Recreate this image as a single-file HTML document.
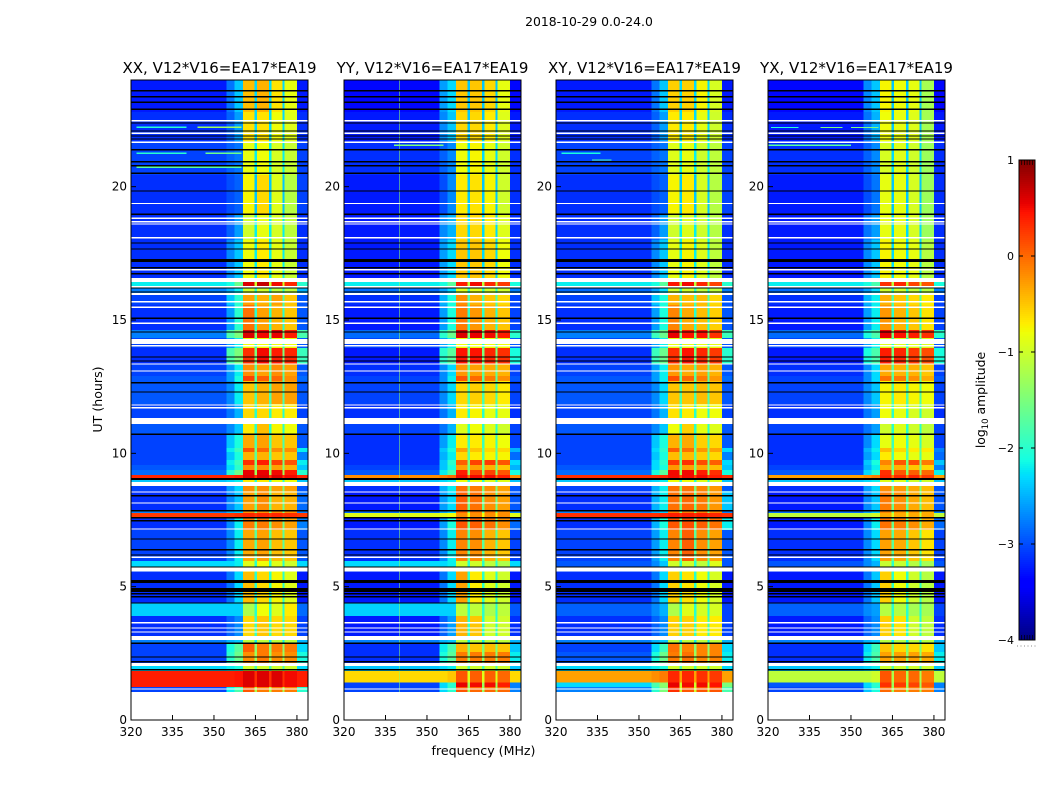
<!DOCTYPE html>
<html>
<head>
<meta charset="utf-8">
<title>2018-10-29 spectrograms</title>
<style>
html,body{margin:0;padding:0;background:#fff;width:1050px;height:800px;overflow:hidden}
svg{display:block}
text{font-family:"DejaVu Sans","Liberation Sans",sans-serif;fill:#000}
</style>
</head>
<body>
<svg id="fig" xmlns="http://www.w3.org/2000/svg" width="1050" height="800" viewBox="0 0 1050 800">
<text x="589" y="26" font-size="12.4" text-anchor="middle">2018-10-29 0.0-24.0</text>
<text x="483.5" y="755" font-size="12.6" text-anchor="middle">frequency (MHz)</text>
<text transform="translate(102,399.5) rotate(-90)" font-size="12.6" text-anchor="middle">UT (hours)</text>
<text transform="translate(985,400) rotate(-90)" font-size="12.4" text-anchor="middle">log<tspan font-size="8.5" dy="3">10</tspan><tspan dy="-3"> amplitude</tspan></text>
</svg>
<script>
// Axis domain and tick values
const freqTicks = [320, 335, 350, 365, 380];
const utTicks = [0, 5, 10, 15, 20];
const cbarTicks = [1, 0, -1, -2, -3, -4];
const panelTitles = ["XX, V12*V16=EA17*EA19", "YY, V12*V16=EA17*EA19", "XY, V12*V16=EA17*EA19", "YX, V12*V16=EA17*EA19"];

// Frequency edges (MHz) of the heatmap columns
const freqEdges = [320, 354.5, 357.5, 360.5, 364.7, 365.5, 369.9, 370.8, 374.7, 375.5, 380, 384];

// UT (hours) edges of the time blocks, descending
const utEdges = [24.0,22.8,21.71,21.64,20.44,18.94,18.0,16.43,16.28,16.01,15.56,14.63,14.33,14.10,13.95,13.35,12.9,12.71,11.85,11.33,11.1,10.73,10.2,10.05,9.75,9.56,9.38,9.19,9.08,8.93,8.78,8.59,7.88,7.76,7.61,7.13,5.96,5.74,5.55,4.39,3.9,3.15,3.0,2.87,2.55,2.14,2.03,1.84,1.4,1.24,1.05];

// Flagged integrations: UT of thin rows, and [start,end] of thick rows
const whiteRows = [22.47,22.0,21.67,19.37,18.81,18.69,18.6,18.09,16.88,16.25,15.69,15.48,14.88,14.03,13.35,13.09,11.81,11.71,8.55,8.14,7.16,6.10,3.65,3.45,3.3,1.16];
const whiteBlocks = [[16.43,16.58],[15.94,16.02],[14.1,14.29],[11.1,11.33],[8.78,8.93],[5.56,5.71],[3.0,3.15],[2.03,2.14]];
const blackRows = [23.6,23.37,23.16,22.9,22.39,22.09,21.9,21.79,21.38,20.94,20.79,20.5,19.84,18.96,17.89,17.66,16.96,16.73,16.2,16.05,15.06,14.55,13.61,13.46,12.65,12.3,10.71,8.41,7.85,7.58,7.47,6.79,6.38,6.19,5.74,4.73,4.62,4.39,2.88,2.36,2.18,1.88];
const blackBlocks = [[17.18,17.29],[9.0,9.08],[5.14,5.25],[4.8,4.95]];

// log10 amplitude per time block: [background, edge1, edge2, sub1, sub2, sub3, sub4, gap, tail]
const levelsXX = [
[-3.1,-2.8,-2.4,-.45,-.4,-.65,-.85,-2.3,-3.1],[-3,-2.9,-2.6,-.65,-.65,-.8,-.9,-2.3,-3],[-2.9,-2.9,-2.7,-.8,-.8,-.9,-1,-2,-2.9],[-2.9,-2.9,-2.8,-.85,-.8,-.95,-1.05,-2.2,-2.9],
[-3,-3,-2.9,-.75,-.6,-.9,-1.15,-2.4,-2.9],[-3,-2.9,-2.6,-1,-.85,-.95,-1.1,-2.2,-3],[-3,-2.7,-2.4,-.8,-.7,-.85,-1.05,-2.2,-3],[-2.2,-2.1,-1.6,.6,.7,.5,.35,-1,-2],
[-2.6,-2.5,-2.2,-1,-1,-1.1,-1.1,-2,-2.5],[-2.9,-2.4,-2,-.3,-.4,-.3,-.5,-1.8,-2.8],[-3,-2.6,-2,-.05,-.3,-.4,-.5,-2,-2.8],[-2.6,-1.8,-1.5,.6,.5,.55,.4,-1.5,-1.8],
[-2.9,-2.6,-2.2,-.8,-.8,-.8,-.8,-2,-2.8],[-2.9,-2.6,-2.2,-.8,-.8,-.8,-.8,-2,-2.8],[-3,-1.8,-1.5,.3,.5,.4,.35,-1.5,-1.9],[-2.9,-2.6,-2.2,-.2,-.3,-.2,-.3,-1.7,-2.8],
[-2.8,-2.6,-2.1,.2,.05,0,-.2,-1.7,-2.7],[-2.8,-2.7,-2.2,-.5,-.4,-.3,-.3,-1.8,-2.8],[-2.9,-2.8,-2.5,-.6,-.6,-.7,-.7,-2,-2.9],[-2.9,-2.8,-2.5,-.6,-.6,-.7,-.7,-2,-2.9],
[-2.8,-2.7,-2.4,-.7,-.45,-.75,-.8,-2,-2.8],[-2.9,-2.4,-2.1,-.35,-.3,-.5,-.5,-1.8,-2.8],[-2.9,-2.2,-1.9,.1,0,-.2,-.2,-1.5,-2.2],[-2.9,-2.4,-2.1,-.4,-.4,-.5,-.5,-1.7,-2.6],
[-2.9,-2.2,-1.9,.3,.4,.2,.1,-1.5,-2.2],[-2.8,-2.3,-2,-.2,-.2,-.3,-.4,-1.5,-2.4],[-2.7,-2,-1.6,.55,.55,.5,.4,-1.3,-2],[.35,.35,.4,.6,.6,.6,.5,.3,.35],
[-2.4,-2.3,-2.2,-.7,-.7,-.8,-.8,-2,-2.4],[-2.4,-2.3,-2.2,-.7,-.7,-.8,-.8,-2,-2.4],[-2.9,-2.6,-2.3,-.2,-.2,-.3,-.3,-1.5,-2.8],[-3,-2.7,-2.4,-.3,-.2,-.4,-.4,-1.6,-2.7],
[-2.6,-2.5,-2.4,-.2,-.2,-.2,-.2,-1.5,-2.6],[.25,.25,.3,.35,.35,.35,.3,.25,.25],[-3,-2.7,-2.2,-.1,-.1,-.2,-.3,-1.6,-2.6],[-2.9,-2.7,-2.2,-.35,-.3,-.45,-.5,-1.7,-2.8],
[-2.3,-2.3,-2.2,-.9,-.8,-.9,-1,-2,-2.3],[-2.9,-2.8,-2.4,-.6,-.7,-.8,-.9,-2,-3],[-3,-2.8,-2.3,-.45,-.6,-.75,-.9,-2,-3.1],[-2.35,-2.35,-2.35,-1.2,-.8,-.9,-.7,-2,-2.7],
[-3,-2.9,-2.7,-.6,-.5,-.6,-.6,-1.9,-2.9],[-3,-2.9,-2.7,-.6,-.5,-.6,-.6,-1.9,-2.9],[-2.6,-2.5,-2.4,-1.1,-1.1,-1.1,-1.1,-2.2,-2.5],[-2.9,-2.1,-1.7,.05,-.1,-.1,-.1,-1.4,-2.3],
[-2.9,-2,-1.6,-.2,-.1,-.2,-.2,-1.3,-2.1],[-2.9,-2,-1.6,-.2,-.1,-.2,-.2,-1.3,-2.1],[-2.3,-2.2,-2.1,-1,-1,-1,-1,-1.8,-2.3],[.4,.4,.45,.6,.6,.6,.5,.3,.4],
[.4,.4,.45,.6,.6,.6,.5,.3,.4],[-2.9,-2.2,-1.8,.1,-.1,-.1,-.1,-1.2,-2]
];
const levelsYY = [
[-3.2,-2.6,-2.3,-.5,-.5,-.6,-.85,-2.4,-3.2],[-3.1,-2.7,-2.4,-.6,-.6,-.7,-.9,-2.4,-3.1],[-3,-2.9,-2.7,-.8,-.8,-.9,-1,-2,-3],[-3,-2.9,-2.7,-.8,-.75,-.85,-1,-2.3,-3],
[-3.1,-3,-2.7,-.7,-.65,-.75,-1,-2.4,-3],[-3.1,-2.7,-2.5,-.6,-.6,-.7,-.9,-2.3,-3],[-3.1,-2.6,-2.3,-.5,-.5,-.6,-.8,-2.3,-3],[-2.2,-2.1,-1.7,.4,.5,.35,.25,-1.1,-2.1],
[-2.7,-2.6,-2.3,-.9,-.9,-1,-1,-2,-2.6],[-3,-2.5,-2.1,-.2,-.4,-.5,-.6,-1.8,-2.9],[-3.1,-2.6,-2.1,-.1,-.25,-.4,-.5,-2,-2.9],[-2.7,-2,-1.6,.6,.55,.5,.4,-1.5,-2],
[-2.9,-2.6,-2.2,-.8,-.8,-.8,-.8,-2,-2.8],[-2.9,-2.6,-2.2,-.8,-.8,-.8,-.8,-2,-2.8],[-3.1,-2,-1.7,.45,.45,.35,.3,-1.5,-2.1],[-3,-2.7,-2.3,-.25,-.3,-.35,-.4,-1.7,-2.9],
[-2.9,-2.7,-2.2,.1,0,-.1,-.2,-1.7,-2.8],[-2.9,-2.7,-2.3,-.6,-.55,-.6,-.7,-1.8,-2.9],[-3,-2.8,-2.5,-.7,-.75,-.85,-.85,-2,-3],[-3,-2.8,-2.5,-.7,-.75,-.85,-.85,-2,-3],
[-2.9,-2.8,-2.5,-.9,-.8,-.9,-1,-2,-2.9],[-3,-2.6,-2.2,-.7,-.7,-.75,-.8,-1.9,-2.9],[-3,-2.4,-2.1,-.3,-.5,-.6,-.6,-1.7,-2.5],[-3,-2.5,-2.2,-.6,-.7,-.75,-.75,-1.8,-2.7],
[-3,-2.4,-2,.05,.2,.25,.1,-1.5,-2.3],[-2.9,-2.4,-2.1,-.3,-.3,-.4,-.5,-1.6,-2.5],[-2.8,-2.2,-1.8,.4,.2,.2,.1,-1.4,-2.1],[-.2,-.1,0,.5,.5,.5,.4,0,-.2],
[-2.4,-2.3,-2.2,-.8,-.8,-.9,-.9,-2,-2.4],[-2.4,-2.3,-2.2,-.8,-.8,-.9,-.9,-2,-2.4],[-3,-2.5,-2.2,-.05,-.1,-.2,-.3,-1.5,-2.8],[-3.1,-2.6,-2.3,.05,-.05,-.2,-.3,-1.6,-2.8],
[-2.7,-2.6,-2.4,0,-.1,-.1,-.2,-1.5,-2.6],[-.9,-.9,-.8,-.2,-.2,-.2,-.2,-.8,-.9],[-3.1,-2.6,-2.1,.1,.05,-.05,-.2,-1.6,-2.7],[-3,-2.7,-2.2,-.15,-.2,-.4,-.5,-1.7,-2.9],
[-2.3,-2.3,-2.2,-1,-1,-1.1,-1.2,-2,-2.3],[-3,-2.8,-2.4,-.4,-.8,-.9,-1,-2,-3],[-3.1,-2.8,-2.3,-.3,-.7,-.9,-1,-2,-3.1],[-2.35,-2.35,-2.35,-1.1,-1.1,-1.2,-1.1,-2,-2.8],
[-3.1,-2.9,-2.6,-.4,-.5,-1,-1,-2,-3],[-3.1,-2.9,-2.6,-.4,-.5,-1,-1,-2,-3],[-2.6,-2.5,-2.4,-1.1,-1.1,-1.1,-1.1,-2.2,-2.5],[-3,-2.2,-1.8,-.4,-.5,-.45,-.5,-1.5,-2.4],
[-3,-2.1,-1.7,-.1,-.1,-.1,-.1,-1.4,-2.2],[-3,-2.1,-1.7,-.1,-.1,-.1,-.1,-1.4,-2.2],[-2.4,-2.3,-2.2,-1,-1,-1,-1,-1.8,-2.4],[-.6,-.6,-.5,.1,.05,.05,0,-.9,-.6],
[-2.9,-2.3,-2,.55,.5,.5,.4,-1.3,-2.6],[-2.9,-2.3,-2,.1,0,0,0,-1.3,-2.6]
];
const levelsXY = [
[-3.1,-2.8,-2.4,-.55,-.55,-.75,-.95,-2.3,-3.1],[-3,-2.9,-2.6,-.7,-.7,-.85,-1,-2.3,-3],[-2.9,-2.9,-2.8,-.9,-.9,-1,-1.1,-2,-2.9],[-2.9,-2.9,-2.8,-.9,-.85,-1,-1.1,-2.2,-2.9],
[-3,-3,-2.9,-.75,-.7,-.95,-1.15,-2.4,-2.9],[-3,-2.9,-2.6,-1,-.9,-1,-1.15,-2.2,-3],[-3,-2.7,-2.4,-.85,-.75,-.9,-1.1,-2.2,-3],[-2.2,-2.1,-1.7,.45,.5,.35,.2,-1.1,-2],
[-2.7,-2.6,-2.3,-1,-1,-1.1,-1.1,-2,-2.6],[-2.9,-2.4,-2.1,-.4,-.45,-.45,-.6,-1.8,-2.8],[-3,-2.6,-2.1,-.15,-.35,-.45,-.55,-2,-2.8],[-2.6,-1.9,-1.6,.55,.45,.45,.3,-1.5,-1.9],
[-2.9,-2.6,-2.2,-.85,-.85,-.85,-.85,-2,-2.8],[-2.9,-2.6,-2.2,-.85,-.85,-.85,-.85,-2,-2.8],[-3,-1.9,-1.6,.3,.45,.35,.25,-1.5,-2],[-2.9,-2.6,-2.2,-.25,-.35,-.3,-.4,-1.7,-2.8],
[-2.8,-2.6,-2.2,.15,0,-.1,-.25,-1.7,-2.7],[-2.8,-2.7,-2.3,-.5,-.5,-.45,-.5,-1.8,-2.8],[-2.9,-2.8,-2.5,-.65,-.7,-.8,-.8,-2,-2.9],[-2.9,-2.8,-2.5,-.65,-.7,-.8,-.8,-2,-2.9],
[-2.8,-2.7,-2.4,-.8,-.55,-.85,-.9,-2,-2.8],[-2.9,-2.4,-2.1,-.4,-.35,-.55,-.6,-1.8,-2.8],[-2.9,-2.3,-2,.05,-.05,-.25,-.3,-1.5,-2.3],[-2.9,-2.4,-2.1,-.45,-.45,-.55,-.6,-1.7,-2.6],
[-2.9,-2.3,-2,.25,.3,.15,.05,-1.5,-2.3],[-2.8,-2.3,-2.1,-.25,-.3,-.35,-.45,-1.5,-2.4],[-2.7,-2.1,-1.7,.5,.5,.4,.3,-1.3,-2.1],[.3,.3,.35,.5,.5,.5,.4,.2,.3],
[-2.4,-2.3,-2.2,-.8,-.8,-.9,-.9,-2,-2.4],[-2.4,-2.3,-2.2,-.8,-.8,-.9,-.9,-2,-2.4],[-2.9,-2.5,-2.2,-.05,-.05,-.15,-.25,-1.5,-2.8],[-3,-2.5,-2.2,-.05,0,-.1,-.25,-1.6,-2.4],
[-2.6,-2.5,-2.4,-.1,-.1,-.1,-.15,-1.5,-2.6],[.3,.3,.35,.4,.4,.4,.35,.3,.3],[-3,-2.5,-2.1,.1,.15,.05,-.05,-1.6,-2.2],[-2.9,-2.6,-2.2,-.15,.05,-.2,-.3,-1.7,-2.8],
[-2.8,-2.7,-2.4,-1,-1,-1.1,-.9,-2,-2.8],[-2.9,-2.8,-2.4,-.7,-.75,-.85,-1,-2,-3],[-3,-2.8,-2.3,-.55,-.65,-.8,-.95,-2,-3.1],[-2.75,-2.7,-2.5,-1.2,-.9,-.95,-.95,-2,-2.9],
[-3,-2.9,-2.7,-.55,-.55,-.7,-.7,-1.9,-2.9],[-3,-2.9,-2.7,-.55,-.55,-.7,-.7,-1.9,-2.9],[-2.6,-2.5,-2.4,-1.1,-1.1,-1.1,-1.1,-2.2,-2.5],[-2.9,-2.3,-1.9,-.05,-.15,-.15,-.15,-1.4,-2.3],
[-2.8,-2.1,-1.6,-.1,-.05,-.15,-.15,-1.3,-2.2],[-2.8,-2.1,-1.6,-.1,-.05,-.15,-.15,-1.3,-2.2],[-2.3,-2.2,-2.1,-1,-1,-1,-1,-1.8,-2.3],[-.3,-.2,-.1,.35,.35,.3,.25,-.3,-.3],
[-2.3,-1.8,-1.4,.55,.5,.5,.45,-1,-1.5],[-2.6,-2,-1.5,.3,.1,.1,.1,-1,-1.8]
];
const levelsYX = [
[-3.2,-2.7,-2.4,-.75,-.8,-.85,-1.25,-2.4,-3.2],[-3.1,-2.8,-2.5,-.8,-.85,-.9,-1.25,-2.4,-3.1],[-3,-2.9,-2.8,-1,-1,-1,-1.3,-2,-3],[-3,-2.9,-2.7,-.95,-.9,-1,-1.3,-2.3,-3],
[-3.1,-3,-2.8,-.85,-.85,-.95,-1.3,-2.4,-3],[-3.1,-2.8,-2.6,-.85,-.85,-.95,-1.3,-2.3,-3],[-3.1,-2.7,-2.4,-.75,-.8,-.85,-1.15,-2.3,-3],[-2.2,-2.1,-1.8,.3,.35,.2,.1,-1.1,-2.1],
[-2.7,-2.6,-2.3,-1,-1,-1.1,-1.15,-2,-2.6],[-3,-2.5,-2.2,-.4,-.5,-.6,-.7,-1.8,-2.9],[-3.1,-2.6,-2.2,-.25,-.4,-.5,-.65,-2,-2.9],[-2.7,-2.1,-1.8,.55,.45,.4,.3,-1.5,-2],
[-2.9,-2.6,-2.2,-.9,-.9,-.9,-.9,-2,-2.8],[-2.9,-2.6,-2.2,-.9,-.9,-.9,-.9,-2,-2.8],[-3.1,-2.1,-1.8,.4,.35,.25,.15,-1.5,-2.1],[-3,-2.7,-2.3,-.35,-.4,-.4,-.5,-1.7,-2.9],
[-2.9,-2.7,-2.3,-.05,-.1,-.2,-.35,-1.7,-2.8],[-2.9,-2.7,-2.4,-.75,-.7,-.75,-.8,-1.8,-2.9],[-3,-2.8,-2.6,-.8,-.85,-.95,-1,-2,-3],[-3,-2.8,-2.6,-.8,-.85,-.95,-1,-2,-3],
[-2.9,-2.8,-2.6,-1,-.9,-1,-1.1,-2,-2.9],[-3,-2.7,-2.3,-.85,-.8,-.85,-.95,-1.9,-2.9],[-3,-2.5,-2.2,-.45,-.6,-.7,-.7,-1.7,-2.6],[-3,-2.6,-2.3,-.7,-.8,-.85,-.85,-1.8,-2.7],
[-3,-2.4,-2.1,-.15,.1,.15,-.1,-1.5,-2.4],[-2.9,-2.5,-2.2,-.4,-.4,-.5,-.6,-1.6,-2.6],[-2.8,-2.3,-2,.3,.1,.05,0,-1.4,-2.2],[-.3,-.2,-.1,.35,.35,.35,.25,-.1,-.3],
[-2.4,-2.3,-2.2,-.9,-.9,-1,-1,-2,-2.4],[-2.4,-2.3,-2.2,-.9,-.9,-1,-1,-2,-2.4],[-3,-2.6,-2.3,-.2,-.25,-.35,-.45,-1.5,-2.8],[-3.1,-2.7,-2.4,-.1,-.2,-.35,-.45,-1.6,-2.8],
[-2.7,-2.6,-2.4,-.15,-.25,-.25,-.35,-1.5,-2.6],[-1.1,-1.1,-1,-.35,-.35,-.35,-.35,-1,-1.1],[-3.1,-2.7,-2.2,-.05,-.1,-.2,-.35,-1.6,-2.7],[-3,-2.7,-2.3,-.3,-.35,-.5,-.65,-1.7,-2.9],
[-2.8,-2.7,-2.5,-1.05,-1.05,-1.15,-1.25,-2,-2.8],[-3,-2.8,-2.5,-.6,-.85,-1,-1.15,-2,-3],[-3.1,-2.8,-2.4,-.55,-.8,-1,-1.15,-2,-3.1],[-2.75,-2.7,-2.6,-1.15,-1.15,-1.25,-1.25,-2,-2.9],
[-3.1,-2.9,-2.7,-.55,-.65,-1,-1.1,-2,-3],[-3.1,-2.9,-2.7,-.55,-.65,-1,-1.1,-2,-3],[-2.6,-2.5,-2.4,-1.15,-1.15,-1.15,-1.15,-2.2,-2.5],[-3,-2.3,-1.9,-.5,-.6,-.6,-.65,-1.5,-2.4],
[-3,-2.2,-1.8,-.3,-.3,-.3,-.35,-1.4,-2.2],[-3,-2.2,-1.8,-.3,-.3,-.3,-.35,-1.4,-2.2],[-2.4,-2.3,-2.2,-1,-1,-1,-1,-1.8,-2.4],[-1.1,-1.1,-1,.1,0,0,-.1,-1.2,-1.1],
[-2.8,-2.3,-2,.3,.25,.2,.1,-1.3,-2.6],[-2.9,-2.4,-2.1,0,-.1,-.1,-.1,-1.3,-2.6]
];
const panelLevels = [levelsXX, levelsYY, levelsXY, levelsYX];

// The speckled background reads slightly darker on average than the block estimates
const backgroundBias = -0.15;

// Narrowband interference column seen only in the YY panel (MHz, log10 amplitude)
const yyNarrowbandMHz = 339.8;
const yyNarrowbandLevel = -1.4;

// Short RFI streaks: [panel index, UT, start MHz, end MHz, log10 amplitude]
const rfiStreaks = [
[0,22.23,322,340,-2],[0,22.23,344,360,-1.3],[0,21.25,322,340,-2],[0,21.25,347,360,-1.6],[0,20.73,322,360,-1.7],
[1,21.55,338,356,-1.5],
[2,21.0,333,340,-1.8],[2,21.25,322,336,-2.1],
[3,22.22,321,331,-2],[3,22.22,339,347,-1.5],[3,22.22,350,360,-1.5],[3,21.55,320,350,-1.7]
];

const SVGNS = "http://www.w3.org/2000/svg";
const fig = document.getElementById("fig");
const panelLeft = [131, 344, 556, 768];
const axW = 177, axTop = 80, axH = 640;
const xScale = (left, f) => left + (f - 320) * axW / 64;
const yScale = ut => axTop + (24 - ut) * axH / 24;
const cbTop = 160, cbH = 480, cbX = 1019, cbW = 16;
const cbScale = v => cbTop + (1 - v) * cbH / 5;

function ramp(t, pts) {
  for (let i = 1; i < pts.length; i++) {
    if (t <= pts[i][0]) {
      const a = pts[i - 1], b = pts[i];
      return a[1] + (b[1] - a[1]) * (t - a[0]) / (b[0] - a[0]);
    }
  }
  return pts[pts.length - 1][1];
}
function jet(v) {
  const t = Math.max(0, Math.min(1, (v + 4) / 5));
  const r = ramp(t, [[0,0],[.35,0],[.66,1],[.89,1],[1,.5]]);
  const g = ramp(t, [[0,0],[.125,0],[.375,1],[.64,1],[.91,0],[1,0]]);
  const b = ramp(t, [[0,.5],[.11,1],[.34,1],[.65,0],[1,0]]);
  return "rgb(" + Math.round(r * 255) + "," + Math.round(g * 255) + "," + Math.round(b * 255) + ")";
}
function shape(tag, parent, attrs) {
  const el = document.createElementNS(SVGNS, tag);
  for (const k in attrs) el.setAttribute(k, attrs[k]);
  parent.appendChild(el);
  return el;
}
// Map each frequency column to an index in the level row
const columnLevelIndex = [0, 1, 2, 3, 7, 4, 7, 5, 7, 6, 8];

panelLeft.forEach(function (left, p) {
  const g = shape("g", fig, {});
  
  
  const heat = shape("g", g, {"shape-rendering": "crispEdges"});
  
  
  panelLevels[p].forEach(function (row, i) {
    const y0 = yScale(utEdges[i]), y1 = yScale(utEdges[i + 1]);
    columnLevelIndex.forEach(function (li, c) {
      const x0 = xScale(left, freqEdges[c]), x1 = xScale(left, freqEdges[c + 1]);
      const level = (row[li] < -2.5 && (li === 0 || li === 8)) ? row[li] + backgroundBias : row[li];
      const cell = shape("rect", heat, {x: x0, y: y0, width: x1 - x0, height: y1 - y0, fill: jet(level)});
      
      
    });
  });
  rfiStreaks.filter(function (s) { return s[0] === p; }).forEach(function (s) {
    const st = shape("rect", heat, {x: xScale(left, s[2]), y: yScale(s[1]) - 0.6, width: xScale(left, s[3]) - xScale(left, s[2]), height: 1.2, fill: jet(s[4])});
    
    
  });
  if (p === 1) {
    const nb = shape("rect", heat, {x: xScale(left, yyNarrowbandMHz), y: yScale(24), width: 1, height: yScale(1.05) - yScale(24), fill: jet(yyNarrowbandLevel), opacity: .55});
    
    
  }
  const thin = 0.05;
  const x0 = xScale(left, 320), x1 = xScale(left, 384);
  blackRows.forEach(function (ut) {
    const r = shape("rect", heat, {x: x0, y: yScale(ut + thin / 2), width: x1 - x0, height: yScale(ut - thin / 2) - yScale(ut + thin / 2), fill: "#000"});
    
    
  });
  blackBlocks.forEach(function (b) {
    const r = shape("rect", heat, {x: x0, y: yScale(b[1]), width: x1 - x0, height: yScale(b[0]) - yScale(b[1]), fill: "#000"});
    
    
  });
  whiteRows.forEach(function (ut) {
    const r = shape("rect", heat, {x: x0, y: yScale(ut + thin / 2), width: x1 - x0, height: yScale(ut - thin / 2) - yScale(ut + thin / 2), fill: "#fff"});
    
    
  });
  whiteBlocks.forEach(function (b) {
    const r = shape("rect", heat, {x: x0, y: yScale(b[1]), width: x1 - x0, height: yScale(b[0]) - yScale(b[1]), fill: "#fff"});
    
    
  });
  const frame = shape("rect", g, {x: left, y: axTop, width: axW, height: axH, fill: "none", stroke: "#000", "stroke-width": 1});
  
  
  freqTicks.forEach(function (f) {
    const x = xScale(left, f);
    const tb = shape("line", g, {x1: x, x2: x, y1: axTop + axH, y2: axTop + axH - 5, stroke: "#000"});
    
    
    const lab = shape("text", g, {x: x, y: axTop + axH + 16, "font-size": 12, "text-anchor": "middle"});
    lab.textContent = f;
    
    
  });
  utTicks.forEach(function (ut) {
    const y = yScale(ut);
    const tl = shape("line", g, {x1: left, x2: left + 5, y1: y, y2: y, stroke: "#000"});
    
    
    const lab = shape("text", g, {x: left - 4, y: y + 4, "font-size": 12, "text-anchor": "end"});
    lab.textContent = ut;
    
    
  });
  const title = shape("text", g, {x: left + axW / 2, y: axTop - 7, "font-size": 15, "text-anchor": "middle"});
  title.textContent = panelTitles[p];
  
  
});

// Colorbar
const cb = shape("g", fig, {});


const cbRamp = shape("g", cb, {"shape-rendering": "crispEdges"});


for (let y = 0; y < cbH; y += 2) {
  const s = shape("rect", cbRamp, {x: cbX, y: cbTop + y, width: cbW, height: 2, fill: jet(1 - (y + 1) * 5 / cbH)});
  
  
}
const cbFrame = shape("rect", cb, {x: cbX, y: cbTop, width: cbW, height: cbH, fill: "none", stroke: "#000", "stroke-width": 1});


cbarTicks.forEach(function (v) {
  const y = cbScale(v);
  const t1 = shape("line", cb, {x1: cbX, x2: cbX + 4, y1: y, y2: y, stroke: "#000"});
  
  
  const t2 = shape("line", cb, {x1: cbX + cbW - 4, x2: cbX + cbW, y1: y, y2: y, stroke: "#000"});
  
  
  const lab = shape("text", cb, {x: cbX - 5, y: y + 4, "font-size": 11, "text-anchor": "end"});
  lab.textContent = String(v).replace("-", "\u2212");
  
  
});
for (let i = 1; i <= 5; i++) {
  const mt = shape("line", cb, {x1: cbX + i * 2.7, x2: cbX + i * 2.7, y1: cbTop, y2: cbTop + 5, stroke: "#000", "stroke-width": .7});
  
  
  const mb = shape("line", cb, {x1: cbX + i * 2.7, x2: cbX + i * 2.7, y1: cbTop + cbH, y2: cbTop + cbH - 5, stroke: "#000", "stroke-width": .7});
  
  
}
const dots = shape("line", cb, {x1: cbX - 2, x2: cbX + cbW + 1, y1: 646, y2: 646, stroke: "#888", "stroke-dasharray": "1 2.5"});


</script>
</body>
</html>
